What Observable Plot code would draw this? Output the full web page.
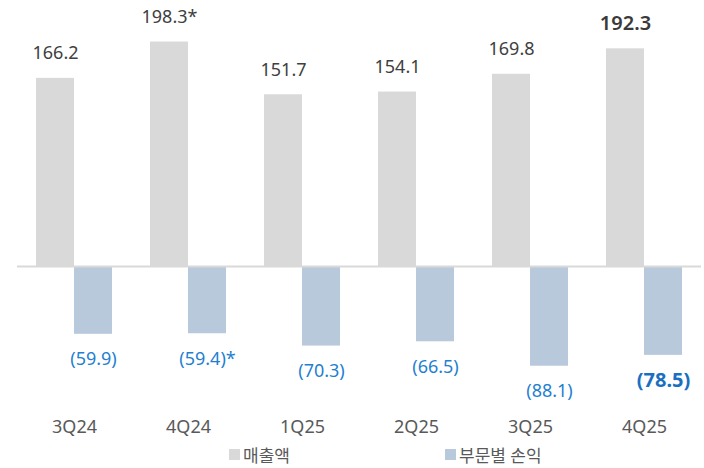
<!DOCTYPE html>
<html>
<head>
<meta charset="utf-8">
<script src="https://cdn.jsdelivr.net/npm/d3@7"></script>
<script src="https://cdn.jsdelivr.net/npm/@observablehq/plot@0.6"></script>
<style>
  body { margin: 0; background: #fff; font-family: "Noto Sans", "Noto Sans CJK KR", sans-serif; }
  #wrap { width: 704px; }
  #legend { position: relative; height: 28px; font-size: 17px; color: #595959; }
  #legend span.item { position: absolute; top: 2px; display: flex; align-items: center; white-space: nowrap; }
  #legend span.sw { display: inline-block; width: 11px; height: 11px; margin-right: 3px; }
</style>
</head>
<body>
<div id="wrap">
  <div id="chart"></div>
  <div id="legend"></div>
</div>
<script>
const quarters = ["3Q24", "4Q24", "1Q25", "2Q25", "3Q25", "4Q25"];
const revenue = [166.2, 198.3, 151.7, 154.1, 169.8, 192.3];
const segment = [-59.9, -59.4, -70.3, -66.5, -88.1, -78.5];
const revenueLabels = ["166.2", "198.3*", "151.7", "154.1", "169.8", "192.3"];
const segmentLabels = ["(59.9)", "(59.4)*", "(70.3)", "(66.5)", "(88.1)", "(78.5)"];
const seriesNames = ["매출액", "부문별 손익"];
const seriesColors = ["#d9d9d9", "#b8c9dc"];

const rows = quarters.map((q, i) => ({
  q, rev: revenue[i], seg: segment[i], rl: revenueLabels[i], sl: segmentLabels[i],
  last: i === quarters.length - 1
}));

const chart = Plot.plot({
  width: 704,
  height: 440,
  marginLeft: 17,
  marginRight: 3,
  marginTop: 0,
  marginBottom: 30,
  style: { fontFamily: '"Noto Sans", "Noto Sans CJK KR", sans-serif', background: "#fff" },
  x: { domain: quarters, padding: 0, label: null },
  y: { domain: [-100, 200], range: [266 + 113.2, 266 - 226.4], axis: null },
  marks: [
    Plot.barY(rows, { x: "q", y: "rev", fill: seriesColors[0], insetLeft: 19, insetRight: 57 }),
    Plot.barY(rows, { x: "q", y: "seg", fill: seriesColors[1], insetLeft: 57, insetRight: 19 }),
    Plot.ruleY([0], { stroke: "#d9d9d9", strokeWidth: 2 }),
    Plot.text(rows, { filter: d => !d.last, x: "q", y: "rev", text: "rl", dx: -19, dy: -25, fill: "#404040", fontSize: 18 }),
    Plot.text(rows, { filter: d => d.last, x: "q", y: "rev", text: "rl", dx: -19, dy: -25, fill: "#3a3a3a", fontSize: 20, fontWeight: 600 }),
    Plot.text(rows, { filter: d => !d.last, x: "q", y: "seg", text: "sl", dx: 19, dy: 25, fill: "#1f7fd0", fontSize: 18 }),
    Plot.text(rows, { filter: d => d.last, x: "q", y: "seg", text: "sl", dx: 19, dy: 25, fill: "#1a6fc0", fontSize: 20, fontWeight: "bold" }),
    Plot.axisX({ tickSize: 0, tickPadding: 10, fontSize: 18, color: "#595959", label: null })
  ]
});
document.getElementById("chart").appendChild(chart);

const legend = document.getElementById("legend");
const lefts = [229, 445];
seriesNames.forEach((name, i) => {
  const item = document.createElement("span");
  item.className = "item";
  item.style.left = lefts[i] + "px";
  const sw = document.createElement("span");
  sw.className = "sw";
  sw.style.background = seriesColors[i];
  item.appendChild(sw);
  item.appendChild(document.createTextNode(name));
  legend.appendChild(item);
});
</script>
</body>
</html>
